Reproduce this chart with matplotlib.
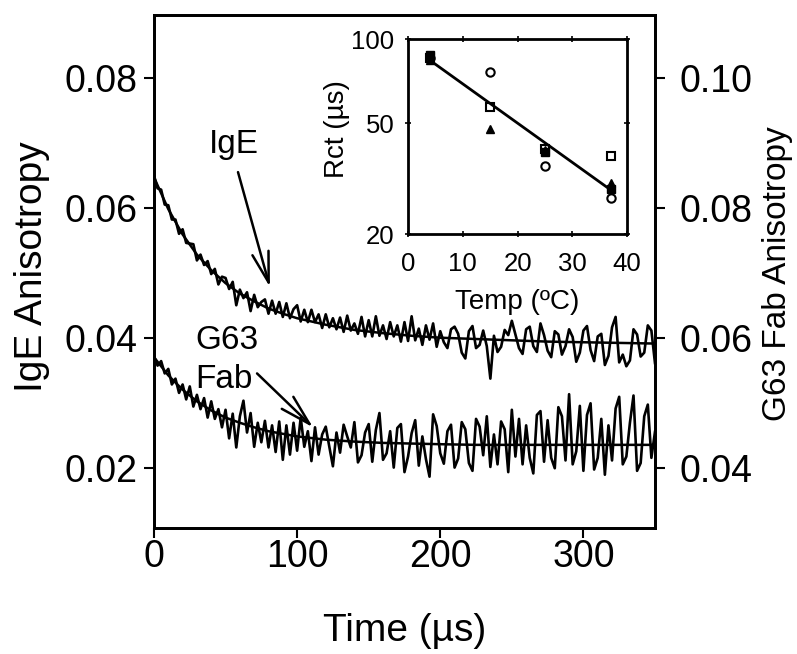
import numpy as np
import matplotlib
matplotlib.use("Agg")
import matplotlib.pyplot as plt

plt.rcParams['font.family'] = ['Liberation Sans', 'DejaVu Sans']

# anisotropy traces, in units of 1e-4
trace_t = np.linspace(0, 350, 141)  # us, 2.5 us steps
ige_trace = [650, 630, 628, 605, 604, 582, 582, 560, 567, 546, 545, 544,
             519, 528, 512, 518, 498, 506, 482, 494, 492, 475, 486, 450,
             474, 461, 470, 441, 466, 447, 455, 459, 437, 457, 437, 455,
             432, 453, 430, 444, 450, 425, 443, 424, 443, 424, 436, 415,
             436, 416, 430, 413, 431, 409, 434, 411, 422, 406, 432, 402,
             427, 402, 433, 403, 419, 398, 424, 402, 419, 394, 424, 395,
             433, 396, 414, 389, 419, 397, 422, 386,
             410, 393, 384, 413, 417, 406, 377, 368, 410, 418, 384, 389,
             411, 387, 337, 403, 378, 386, 412, 404, 426, 405, 384, 375,
             413, 417, 387, 378, 422, 404, 380, 370, 410, 405, 374, 387,
             413, 401, 363, 377, 411, 418, 381, 364, 402, 406, 358, 372,
             416, 432, 362, 374, 356, 365, 413, 405, 371, 377, 419, 411,
             361]
fab_trace = [372, 357, 364, 345, 352, 328, 337, 315, 328, 305, 325, 294,
             312, 290, 307, 277, 302, 275, 290, 262, 289, 245, 283, 231,
             279, 303, 254, 284, 232, 269, 239, 272, 231, 265, 224, 271,
             212, 265, 220, 269, 226, 277, 232, 256, 210, 262, 220, 251,
             263, 232, 202, 254, 223, 266, 248, 231, 270, 208, 219, 254,
             267, 209, 258, 284, 212, 222, 256, 200, 261, 267, 193, 217,
             253, 273, 203, 248, 213, 186, 282, 264, 222, 206, 256, 266,
             200, 214, 270, 259, 207, 195, 275, 263, 219, 279, 201, 251,
             205, 271, 259, 193, 289, 217, 275, 205, 265, 215, 191, 281,
             287, 209, 273, 215, 199, 293, 279, 211, 313, 205, 225, 295,
             195, 281, 299, 197, 215, 275, 189, 265, 211, 291, 309, 205,
             217, 269, 311, 195, 207, 279, 297, 215, 255]

# fitted decays
fit_t = [0, 10, 20, 30, 40, 50, 60, 70, 80, 90, 100, 120, 140, 160, 180,
         200, 225, 250, 275, 300, 325, 350]
ige_fit = [647, 598, 559, 528, 504, 484, 468, 456, 445, 437, 430, 420, 412,
           407, 403, 400, 398, 396, 394, 393, 392, 391]
fab_fit = [370, 342, 320, 302, 288, 277, 269, 262, 256, 252, 248, 243, 240,
           238, 237, 236, 235, 235, 235, 235, 235, 235]

# inset: rotational correlation time vs temperature
sq_fill_T = [4, 25, 37]
sq_fill_R = [88, 39.5, 29]
sq_open_T = [4, 15, 25, 37]
sq_open_R = [86, 57, 40.5, 38]
tri_T = [4, 15, 25, 37]
tri_R = [84, 47.5, 40, 30.5]
circ_T = [4, 15, 25, 37]
circ_R = [86, 76, 35, 27]
line_T = [4, 37]
line_R = [84, 28.8]

fig = plt.figure(figsize=(7.97, 6.54), dpi=100)
ax = fig.add_axes([0.1932, 0.1927, 0.6286, 0.7844])

k = 1e-4
ax.plot(trace_t, np.array(ige_trace) * k, color='k', lw=1.9)
ax.plot(fit_t, np.array(ige_fit) * k, color='k', lw=1.8)
ax.plot(trace_t, np.array(fab_trace) * k, color='k', lw=1.9)
ax.plot(fit_t, np.array(fab_fit) * k, color='k', lw=1.8)

ax.set_xlim(0, 350)
ax.set_ylim(0.0107, 0.0897)
ax.set_xticks([0, 100, 200, 300])
ax.set_yticks([0.02, 0.04, 0.06, 0.08])
ax.set_yticklabels(['0.02', '0.04', '0.06', '0.08'])
ax.tick_params(axis='both', direction='out', length=7, width=1.5, labelsize=27)
ax.tick_params(axis='y', pad=5)
ax.tick_params(axis='x', pad=1)
ax.set_xlabel('Time (µs)', fontsize=28)
ax.set_ylabel('IgE Anisotropy', fontsize=28)
ax.xaxis.set_label_coords(0.5, -0.165)
ax.yaxis.set_label_coords(-0.207, 0.51)

ax2 = ax.twinx()
ax2.set_ylim(0.0307, 0.1097)
ax2.set_yticks([0.04, 0.06, 0.08, 0.10])
ax2.set_yticklabels(['0.04', '0.06', '0.08', '0.10'])
ax2.tick_params(axis='y', direction='out', length=7, width=1.5, labelsize=27, pad=11)
ax2.set_ylabel('G63 Fab Anisotropy', fontsize=24)
ax2.yaxis.set_label_coords(1.214, 0.495)

for a in (ax, ax2):
    for s in a.spines.values():
        s.set_linewidth(2)

# labels and arrows
ax.text(55.9, 0.0684, 'IgE', ha='center', va='baseline', fontsize=24)
ax.text(28.6, 0.0382, 'G63', ha='left', va='baseline', fontsize=24)
ax.text(28.6, 0.0323, 'Fab', ha='left', va='baseline', fontsize=24)
arw = dict(arrowstyle='->,head_length=1.1,head_width=0.3', lw=1.8, color='k',
           shrinkA=0, shrinkB=0, mutation_scale=20)
ax.annotate('', xy=(81.0, 0.0478), xytext=(58.7, 0.0655), arrowprops=arw)
ax.annotate('', xy=(111.1, 0.0262), xytext=(72.0, 0.0345), arrowprops=arw)

# inset
axi = fig.add_axes([0.512, 0.642, 0.275, 0.298])
axi.plot(line_T, line_R, color='k', lw=2)
axi.plot(sq_fill_T, sq_fill_R, 's', color='k', ms=6)
axi.plot(sq_open_T, sq_open_R, 's', mfc='none', mec='k', mew=1.5, ms=6)
axi.plot(tri_T, tri_R, '^', color='k', ms=6)
axi.plot(circ_T, circ_R, 'o', mfc='none', mec='k', mew=1.5, ms=6)
axi.set_yscale('log')
axi.set_xlim(0, 40)
axi.set_ylim(20, 100)
axi.set_xticks([0, 10, 20, 30, 40])
axi.set_yticks([20, 50, 100])
axi.set_yticklabels(['20', '50', '100'])
axi.yaxis.set_minor_locator(plt.NullLocator())
axi.tick_params(axis='both', which='both', direction='inout', length=4, width=1.2,
                labelsize=18.5, top=True, right=True)
axi.tick_params(axis='x', pad=11)
axi.tick_params(axis='y', pad=8)
axi.set_xlabel('Temp (ºC)', fontsize=20)
axi.set_ylabel('Rct (µs)', fontsize=20)
axi.xaxis.set_label_coords(0.5, -0.28)
axi.yaxis.set_label_coords(-0.265, 0.54)
for s in axi.spines.values():
    s.set_linewidth(2)

fig.savefig('out.png', dpi=100)
